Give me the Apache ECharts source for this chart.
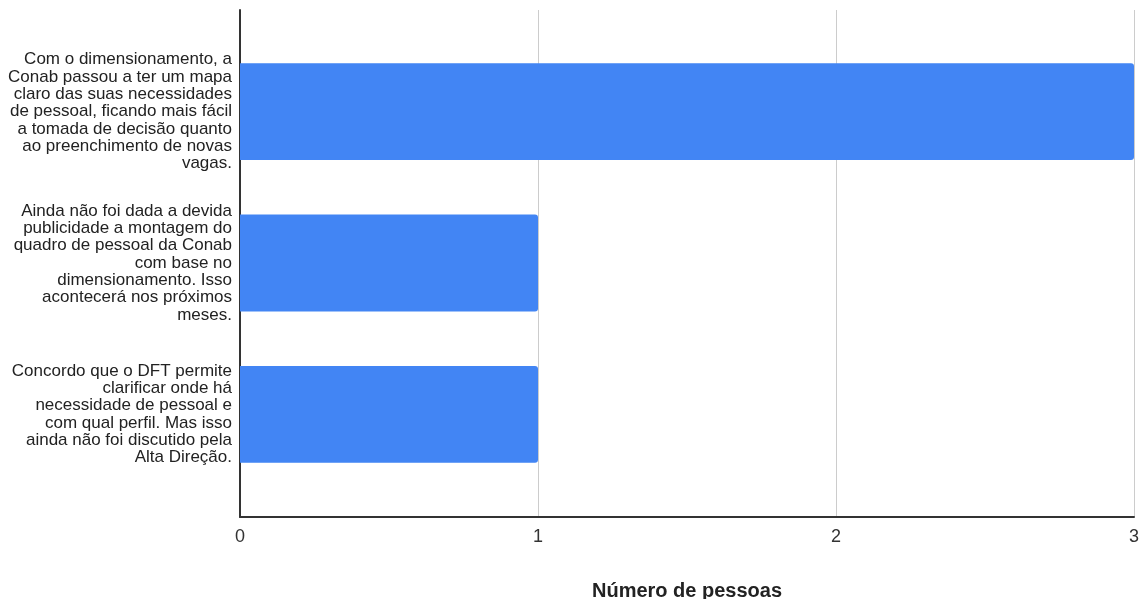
<!DOCTYPE html>
<html>
<head>
<meta charset="utf-8">
<script src="https://cdn.jsdelivr.net/npm/echarts@6/dist/echarts.min.js"></script>
<style>
  html, body { margin: 0; padding: 0; background: #fff; }
  #chart { width: 1143px; height: 599px; }
</style>
</head>
<body>
<div id="chart"></div>
<script>
// respostas (quebras de linha como no gráfico original)
let categories = [
    'Com o dimensionamento, a\nConab passou a ter um mapa\nclaro das suas necessidades\nde pessoal, ficando mais fácil\na tomada de decisão quanto\nao preenchimento de novas\nvagas.',
    'Ainda não foi dada a devida\npublicidade a montagem do\nquadro de pessoal da Conab\ncom base no\ndimensionamento. Isso\nacontecerá nos próximos\nmeses.',
    'Concordo que o DFT permite\nclarificar onde há\nnecessidade de pessoal e\ncom qual perfil. Mas isso\nainda não foi discutido pela\nAlta Direção.'
];
let values = [3, 1, 1];
let xTicks = [0, 1, 2, 3];
let xName = 'Número de pessoas';

let myChart = echarts.init(document.getElementById('chart'));
let font = '"Liberation Sans", Arial, sans-serif';

let option = {
    backgroundColor: '#ffffff',
    animation: false,
    grid: [
        // barras
        { left: 240, right: 9, top: 36, bottom: 109, outerBoundsMode: 'none' },
        // eixos / linhas de grade
        { left: 240, right: 9, top: 10, bottom: 82, outerBoundsMode: 'none' }
    ],
    xAxis: [
        {
            gridIndex: 0,
            type: 'value',
            min: xTicks[0],
            max: xTicks[xTicks.length - 1],
            interval: 1,
            show: false
        },
        {
            gridIndex: 1,
            type: 'value',
            min: xTicks[0],
            max: xTicks[xTicks.length - 1],
            interval: 1,
            name: xName,
            nameLocation: 'middle',
            nameGap: 64,
            nameTextStyle: { fontFamily: font, fontSize: 20, fontWeight: 'bold', color: '#222' },
            axisLine: { show: true, lineStyle: { color: '#333', width: 2 } },
            axisTick: { show: false },
            axisLabel: { fontFamily: font, fontSize: 18, color: '#333', margin: 11 },
            splitLine: { show: true, lineStyle: { color: '#cccccc', width: 1 } }
        }
    ],
    yAxis: [
        {
            gridIndex: 0,
            type: 'category',
            data: categories,
            inverse: true,
            axisLine: { show: false },
            axisTick: { show: false },
            axisLabel: {
                fontFamily: font,
                fontSize: 17,
                color: '#222',
                align: 'right',
                lineHeight: 17.3,
                margin: 8
            }
        },
        {
            gridIndex: 1,
            type: 'value',
            min: 0,
            max: 1,
            axisLine: { show: true, onZero: false, lineStyle: { color: '#333', width: 2 } },
            axisTick: { show: false },
            axisLabel: { show: false },
            splitLine: { show: false }
        }
    ],
    series: [
        {
            type: 'bar',
            xAxisIndex: 0,
            yAxisIndex: 0,
            data: values,
            barCategoryGap: '36%',
            itemStyle: { color: '#4285F4', borderRadius: [0, 3, 3, 0] },
            z: 3
        }
    ]
};
myChart.setOption(option);
</script>
</body>
</html>
